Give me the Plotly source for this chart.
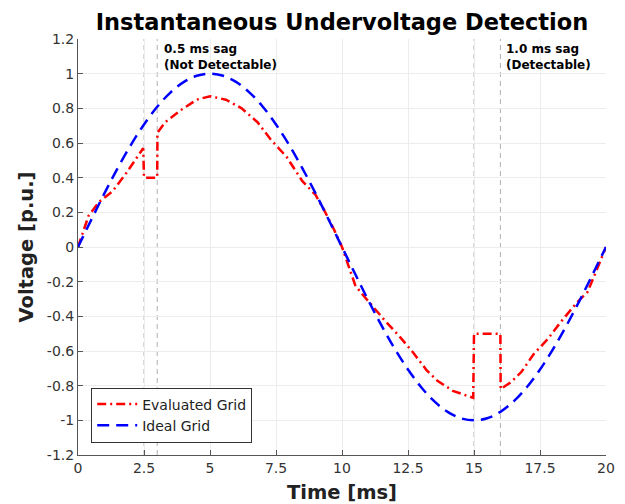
import plotly.graph_objects as go

# Ideal grid (blue dashed), read at 0.5 ms steps
ideal_t = [0, 0.5, 1, 1.5, 2, 2.5, 3, 3.5, 4, 4.5, 5, 5.5, 6, 6.5, 7, 7.5, 8, 8.5, 9, 9.5,
           10, 10.5, 11, 11.5, 12, 12.5, 13, 13.5, 14, 14.5, 15, 15.5, 16, 16.5, 17, 17.5,
           18, 18.5, 19, 19.5, 20]
ideal_v = [0, 0.156, 0.309, 0.454, 0.588, 0.707, 0.809, 0.891, 0.951, 0.988, 1.0, 0.988,
           0.951, 0.891, 0.809, 0.707, 0.588, 0.454, 0.309, 0.156,
           0, -0.156, -0.309, -0.454, -0.588, -0.707, -0.809, -0.891, -0.951, -0.988, -1.0,
           -0.988, -0.951, -0.891, -0.809, -0.707, -0.588, -0.454, -0.309, -0.156, 0]

# Evaluated grid (red dash-dot)
eval_t = [0, 0.4, 0.8, 1.3, 1.8, 2.47, 2.5, 3.0, 3.01, 3.3, 3.9, 4.5, 5.0, 5.6, 6.2, 6.8,
          7.3, 7.9, 8.5, 9.0, 9.3, 9.7, 10.0, 10.5, 10.7, 11.2, 11.6, 12.2, 12.7, 13.2, 13.6,
          14.2, 14.97, 15.0, 16.0, 16.01, 16.4, 16.8, 17.25, 17.8, 18.3, 18.9, 19.3, 19.6, 20]
eval_v = [0, 0.18, 0.26, 0.32, 0.42, 0.57, 0.40, 0.40, 0.66, 0.72, 0.79, 0.85, 0.87, 0.85,
          0.80, 0.72, 0.62, 0.52, 0.38, 0.30, 0.22, 0.10, 0.0, -0.22, -0.26, -0.35, -0.42,
          -0.52, -0.61, -0.71, -0.77, -0.83, -0.87, -0.50, -0.50, -0.82, -0.78, -0.72, -0.62,
          -0.53, -0.43, -0.32, -0.26, -0.15, 0]

marker_times = [2.5, 3.0, 15.0, 16.0]
x_ticks = [0, 2.5, 5, 7.5, 10, 12.5, 15, 17.5, 20]
x_tick_text = ["0", "2.5", "5", "7.5", "10", "12.5", "15", "17.5", "20"]
y_ticks = [-1.2, -1, -0.8, -0.6, -0.4, -0.2, 0, 0.2, 0.4, 0.6, 0.8, 1, 1.2]
y_tick_text = ["-1.2", "-1", "-0.8", "-0.6", "-0.4", "-0.2", "0", "0.2", "0.4", "0.6",
               "0.8", "1", "1.2"]

FONT = "DejaVu Sans"

fig = go.Figure()
fig.add_trace(go.Scatter(x=eval_t, y=eval_v, mode="lines", name="Evaluated Grid",
                         line=dict(color="#ff0000", width=2.5, dash="9px,4px,2px,4px")))
fig.add_trace(go.Scatter(x=ideal_t, y=ideal_v, mode="lines", name="Ideal Grid",
                         line=dict(color="#0000ff", width=2.5, dash="12px,7px", shape="spline")))

for t in marker_times:
    fig.add_shape(type="line", x0=t, x1=t, y0=-1.2, y1=1.2, xref="x", yref="y",
                  line=dict(color="#b0b0b0", width=1, dash="5px,4px"), layer="below")

fig.add_annotation(x=3.2, y=1.195, xref="x", yref="y", xanchor="left", yanchor="top",
                   text="<b>0.5 ms sag<br>(Not Detectable)</b>", showarrow=False, align="left",
                   font=dict(family=FONT, size=12, color="black"))
fig.add_annotation(x=16.15, y=1.195, xref="x", yref="y", xanchor="left", yanchor="top",
                   text="<b>1.0 ms sag<br>(Detectable)</b>", showarrow=False, align="left",
                   font=dict(family=FONT, size=12, color="black"))

fig.update_layout(
    width=617, height=496,
    margin=dict(l=70, r=19, t=31, b=49, autoexpand=False),
    paper_bgcolor="white", plot_bgcolor="white",
    font=dict(family=FONT, color="#333333"),
    title=dict(text="<b>Instantaneous Undervoltage Detection</b>", x=0.5, xref="paper",
               xanchor="center", y=0.972, yanchor="middle",
               font=dict(family=FONT, size=22.5, color="black")),
    showlegend=True,
    legend=dict(x=0.025, y=0.03, xanchor="left", yanchor="bottom",
                bgcolor="white", bordercolor="#333333", borderwidth=1,
                font=dict(family=FONT, size=14, color="#222222"),
                tracegroupgap=0, itemwidth=40),
)
fig.update_xaxes(range=[0, 20], tickvals=x_ticks, ticktext=x_tick_text,
                 showgrid=True, gridcolor="#ececec", gridwidth=1,
                 showline=True, linecolor="#555555", linewidth=1,
                 ticks="inside", ticklen=5, tickcolor="#555555",
                 tickfont=dict(family=FONT, size=14, color="#333333"),
                 zeroline=False, automargin=False,
                 title=dict(text="<b>Time [ms]</b>", standoff=11,
                            font=dict(family=FONT, size=19.5, color="#222222")))
fig.update_yaxes(range=[-1.2, 1.2], tickvals=y_ticks, ticktext=y_tick_text,
                 showgrid=True, gridcolor="#ececec", gridwidth=1,
                 showline=True, linecolor="#555555", linewidth=1,
                 ticks="inside", ticklen=5, tickcolor="#555555",
                 tickfont=dict(family=FONT, size=14, color="#333333"),
                 zeroline=False, automargin=False,
                 title=dict(text="<b>Voltage [p.u.]</b>", standoff=8,
                            font=dict(family=FONT, size=19.5, color="#222222")))

fig.write_html("out.html")
